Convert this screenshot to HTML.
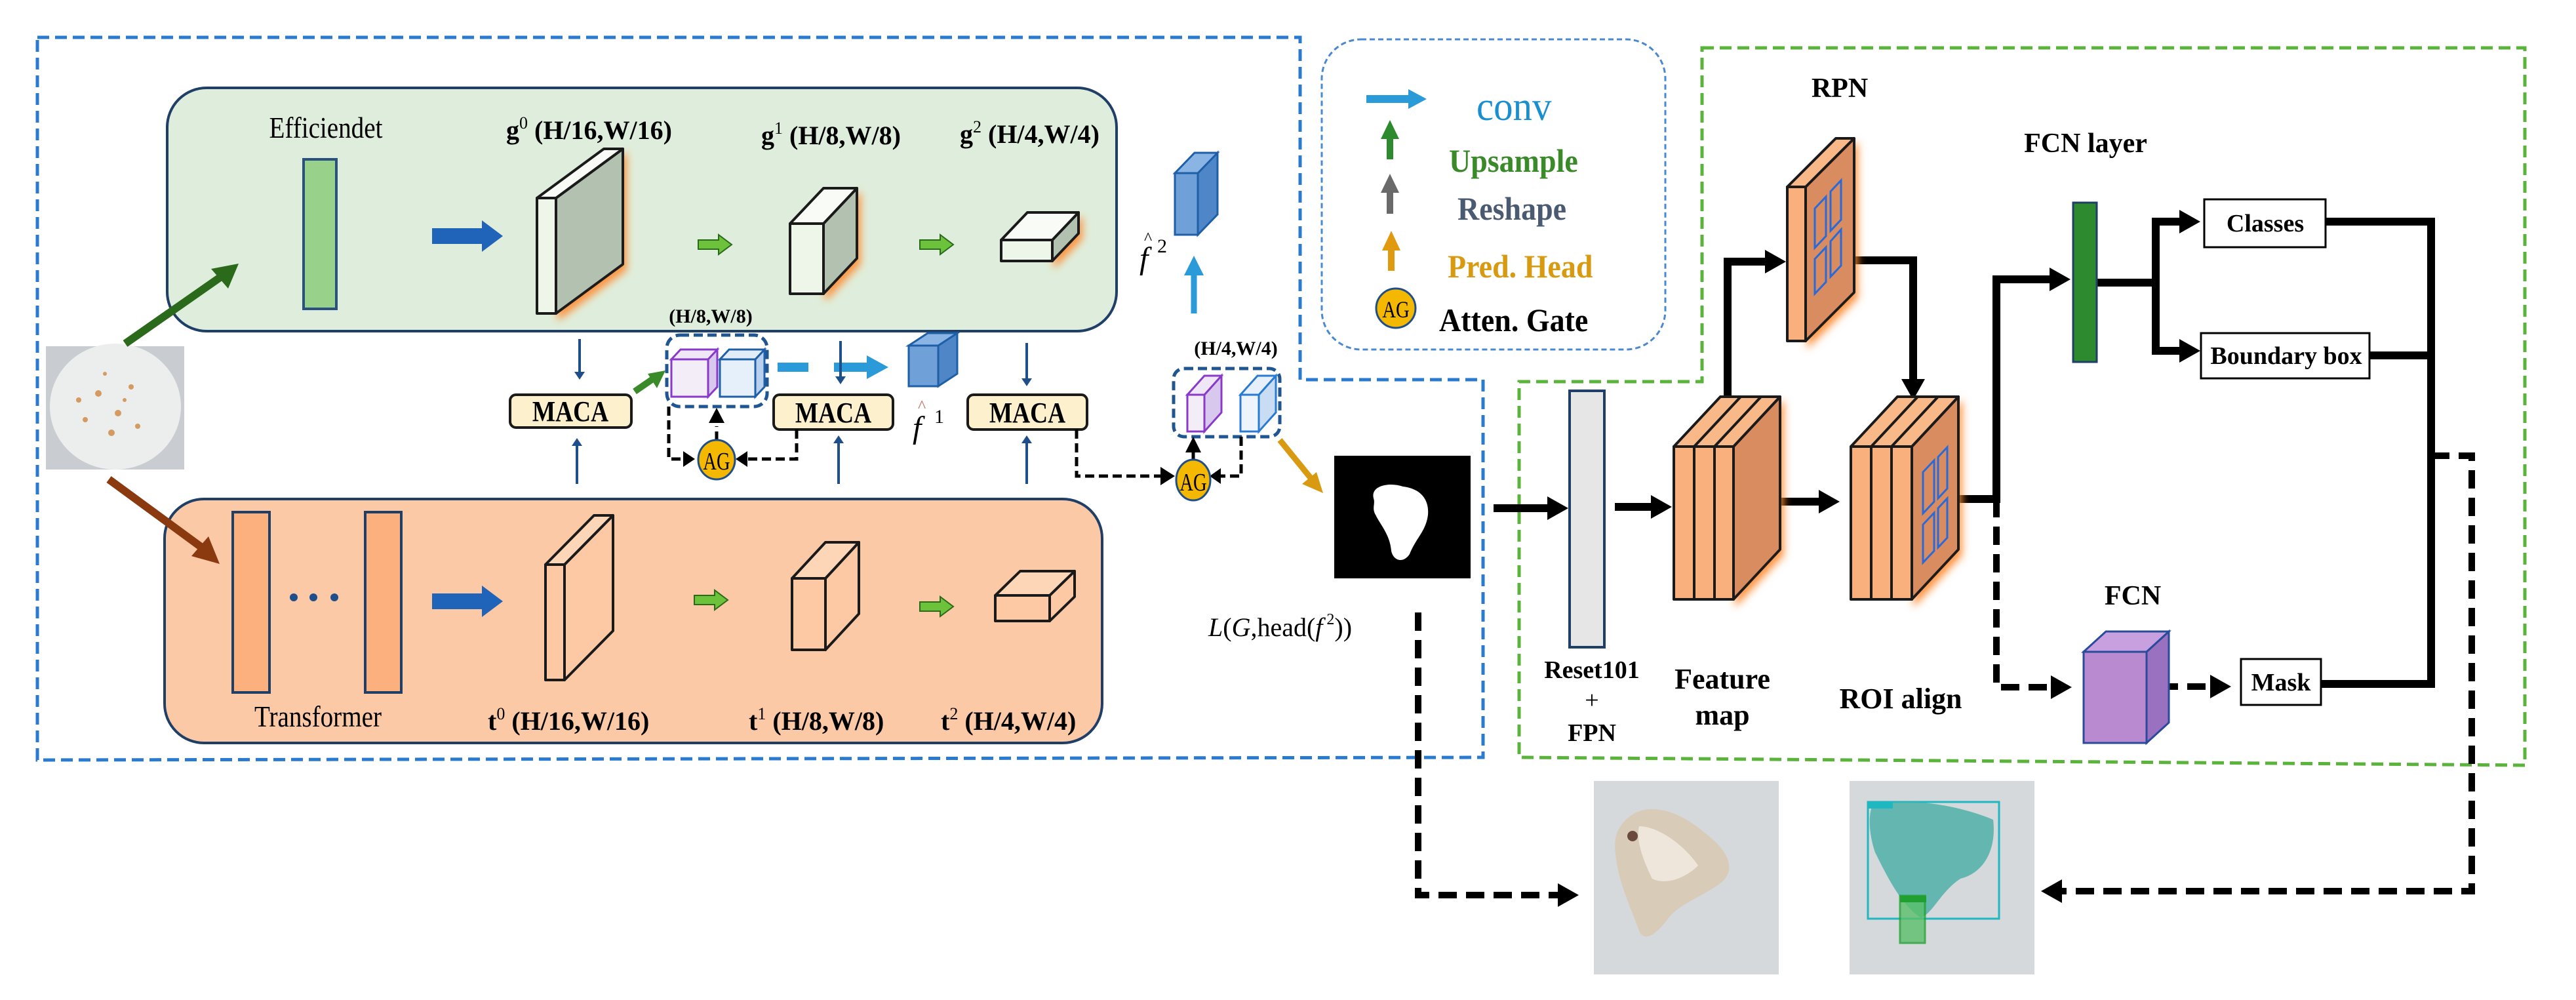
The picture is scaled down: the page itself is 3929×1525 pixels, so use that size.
<!DOCTYPE html>
<html><head><meta charset="utf-8"><style>
html,body{margin:0;padding:0;background:#fff;}
svg{display:block;}
text{font-family:"Liberation Serif",serif;}
</style></head><body>
<svg width="3929" height="1525" viewBox="0 0 3929 1525" xmlns="http://www.w3.org/2000/svg">
<defs>
<marker id="ab" markerWidth="5" markerHeight="5" refX="2" refY="2.5" orient="auto" markerUnits="strokeWidth"><path d="M0,0.5 L3,2.5 L0,4.5 z" fill="#1f4f8a"/></marker>
<filter id="gl" x="-50%" y="-50%" width="200%" height="200%"><feDropShadow dx="4" dy="8" stdDeviation="6" flood-color="#ff8a30" flood-opacity="0.9"/></filter>
</defs>

<path d="M57,57 L1983,57 L1983,579 L2262,579 L2262,1155 L57,1159 Z" fill="none" stroke="#2a7ad0" stroke-width="5" stroke-dasharray="18,9"/>
<path d="M2596,73 L3851,73 L3851,1167 L2317,1155 L2317,582 L2596,582 Z" fill="none" stroke="#5ab33a" stroke-width="5" stroke-dasharray="18,9"/>

<rect x="255" y="134" width="1448" height="371" rx="60" fill="#dfeedc" stroke="#1f3f66" stroke-width="4"/>
<rect x="251" y="761" width="1430" height="372" rx="60" fill="#fcc9a6" stroke="#1f3f66" stroke-width="4"/>

<rect x="70" y="528" width="211" height="188" fill="#c9cdd1"/>
<ellipse cx="176" cy="620" rx="100" ry="96" fill="#eceeee"/>
<g fill="#d49a60"><circle cx="150" cy="600" r="5"/><circle cx="180" cy="630" r="5"/><circle cx="200" cy="590" r="4"/><circle cx="130" cy="640" r="4"/><circle cx="170" cy="660" r="5"/><circle cx="210" cy="650" r="4"/><circle cx="120" cy="610" r="4"/><circle cx="190" cy="610" r="3"/><circle cx="160" cy="570" r="3"/></g>
<line x1="191" y1="524" x2="340" y2="420" stroke="#2a6a1a" stroke-width="12"/>
<polygon points="364,402 348,440 322,410" fill="#2a6a1a"/>
<line x1="166" y1="731" x2="312" y2="838" stroke="#8b3a10" stroke-width="12"/>
<polygon points="335,860 292,848 318,818" fill="#8b3a10"/>

<text x="497" y="210" font-size="46" text-anchor="middle" transform="translate(497 0) scale(0.85 1) translate(-497 0)">Efficiendet</text>
<rect x="463" y="243" width="50" height="228" fill="#98d18a" stroke="#2a5080" stroke-width="4"/>
<polygon points="659,348 735,348 735,336 767,360 735,384 735,372 659,372" fill="#1f64b8"/>
<polygon points="659,905 735,905 735,893 767,917 735,941 735,929 659,929" fill="#1f64b8"/>

<g fill="#6cc23a" stroke="#2a6a1a" stroke-width="2">
<polygon points="1065,366 1096,366 1096,358 1116,373 1096,388 1096,380 1065,380"/>
<polygon points="1403,366 1434,366 1434,358 1454,373 1434,388 1434,380 1403,380"/>
<polygon points="1059,908 1090,908 1090,900 1110,915 1090,930 1090,922 1059,922"/>
<polygon points="1403,918 1434,918 1434,910 1454,925 1434,940 1434,932 1403,932"/>
</g>

<g stroke="#1a1a1a" stroke-width="4" stroke-linejoin="round">
<g filter="url(#gl)"><polygon points="848,302 950,227 950,403 848,478" fill="#b3c1b0"/></g>
<polygon points="819,302 921,227 950,227 848,302" fill="#f8fbf6"/>
<rect x="819" y="302" width="29" height="176" fill="#eef6ea"/>
<g filter="url(#gl)"><polygon points="1256,341 1307,287 1307,394 1256,448" fill="#b3c1b0"/></g>
<polygon points="1205,341 1256,287 1307,287 1256,341" fill="#f8fbf6"/>
<rect x="1205" y="341" width="51" height="107" fill="#eef6ea"/>
<g filter="url(#gl)"><polygon points="1605,366 1645,324 1645,356 1605,398" fill="#b3c1b0"/></g>
<polygon points="1527,366 1567,324 1645,324 1605,366" fill="#f8fbf6"/>
<rect x="1527" y="366" width="78" height="32" fill="#eef6ea"/>
</g>
<text x="772" y="212" font-size="40" font-weight="bold">g<tspan font-size="26" dy="-16" font-weight="normal">0</tspan><tspan dy="16"> (H/16,W/16)</tspan></text>
<text x="1161" y="220" font-size="40" font-weight="bold">g<tspan font-size="26" dy="-16" font-weight="normal">1</tspan><tspan dy="16"> (H/8,W/8)</tspan></text>
<text x="1464" y="218" font-size="40" font-weight="bold">g<tspan font-size="26" dy="-16" font-weight="normal">2</tspan><tspan dy="16"> (H/4,W/4)</tspan></text>

<g stroke="#1a1a1a" stroke-width="4" stroke-linejoin="round">
<polygon points="861,861 935,786 935,962 861,1037" fill="#fcc9a4"/>
<polygon points="832,861 906,786 935,786 861,861" fill="#fdd6b8"/>
<rect x="832" y="861" width="29" height="176" fill="#fcc9a4"/>
<polygon points="1259,882 1310,827 1310,936 1259,991" fill="#fcc9a4"/>
<polygon points="1208,882 1259,827 1310,827 1259,882" fill="#fdd6b8"/>
<rect x="1208" y="882" width="51" height="109" fill="#fcc9a4"/>
<polygon points="1601,908 1639,871 1639,910 1601,947" fill="#fcc9a4"/>
<polygon points="1518,908 1556,871 1639,871 1601,908" fill="#fdd6b8"/>
<rect x="1518" y="908" width="83" height="39" fill="#fcc9a4"/>
</g>
<rect x="355" y="781" width="56" height="275" fill="#fbb07e" stroke="#1f3f66" stroke-width="4"/>
<rect x="557" y="781" width="55" height="275" fill="#fbb07e" stroke="#1f3f66" stroke-width="4"/>
<g fill="#1f4f8a"><circle cx="448" cy="911" r="6"/><circle cx="478" cy="911" r="6"/><circle cx="510" cy="911" r="6"/></g>
<text x="485" y="1108" font-size="46" text-anchor="middle" transform="translate(485 0) scale(0.85 1) translate(-485 0)">Transformer</text>
<text x="744" y="1113" font-size="40" font-weight="bold">t<tspan font-size="26" dy="-16" font-weight="normal">0</tspan><tspan dy="16"> (H/16,W/16)</tspan></text>
<text x="1142" y="1113" font-size="40" font-weight="bold">t<tspan font-size="26" dy="-16" font-weight="normal">1</tspan><tspan dy="16"> (H/8,W/8)</tspan></text>
<text x="1435" y="1113" font-size="40" font-weight="bold">t<tspan font-size="26" dy="-16" font-weight="normal">2</tspan><tspan dy="16"> (H/4,W/4)</tspan></text>

<g stroke="#1f5fa8" stroke-width="3">
<polygon points="1827,264 1857,233 1857,327 1827,358" fill="#4f86c8"/>
<polygon points="1792,264 1822,233 1857,233 1827,264" fill="#8ab4e4"/>
<rect x="1792" y="264" width="35" height="94" fill="#6fa0d8"/>
</g>
<text x="1738" y="410" font-size="48" font-style="italic">f</text><text x="1745" y="372" font-size="26">^</text><text x="1765" y="385" font-size="30">2</text>
<line x1="1821" y1="478" x2="1821" y2="420" stroke="#2a9ad8" stroke-width="9"/>
<polygon points="1806,420 1836,420 1821,390" fill="#2a9ad8"/>

<text x="1084" y="492" font-size="30" font-weight="bold" text-anchor="middle">(H/8,W/8)</text>
<rect x="1017" y="511" width="153" height="109" rx="20" fill="none" stroke="#1f5590" stroke-width="5" stroke-dasharray="14,7"/>
<g stroke-width="3">
<polygon points="1080,548 1094,533 1094,590 1080,605" fill="#d8c8ee" stroke="#8a3ac8"/>
<polygon points="1024,548 1038,533 1094,533 1080,548" fill="#efe6f8" stroke="#8a3ac8"/>
<rect x="1024" y="548" width="56" height="57" fill="#f3edf8" stroke="#8a3ac8"/>
<polygon points="1152,548 1166,533 1166,590 1152,605" fill="#b8d0ee" stroke="#1f5fa8"/>
<polygon points="1098,548 1112,533 1166,533 1152,548" fill="#e0ecf8" stroke="#1f5fa8"/>
<rect x="1098" y="548" width="54" height="57" fill="#e6f0fa" stroke="#1f5fa8"/>
</g>
<line x1="1186" y1="560" x2="1233" y2="560" stroke="#2a9ad8" stroke-width="14"/>
<line x1="1272" y1="560" x2="1325" y2="560" stroke="#2a9ad8" stroke-width="14"/>
<polygon points="1322,542 1355,560 1322,578" fill="#2a9ad8"/>
<g stroke="#1f5fa8" stroke-width="3">
<polygon points="1431,527 1460,508 1460,570 1431,589" fill="#4f86c8"/>
<polygon points="1386,527 1415,508 1460,508 1431,527" fill="#8ab4e4"/>
<rect x="1386" y="527" width="45" height="62" fill="#6fa0d8"/>
</g>
<text x="1392" y="668" font-size="48" font-style="italic">f</text><text x="1400" y="628" font-size="26" fill="#c07060">^</text><text x="1425" y="645" font-size="30">1</text>

<g fill="#fdf0cc" stroke="#1a1a1a" stroke-width="4">
<rect x="778" y="602" width="185" height="50" rx="9"/>
<rect x="1180" y="602" width="182" height="53" rx="9"/>
<rect x="1476" y="602" width="182" height="53" rx="9"/>
</g>
<g font-size="44" font-weight="bold" text-anchor="middle">
<text x="870" y="642" transform="translate(870 0) scale(0.85 1) translate(-870 0)">MACA</text>
<text x="1271" y="644" transform="translate(1271 0) scale(0.85 1) translate(-1271 0)">MACA</text>
<text x="1567" y="644" transform="translate(1567 0) scale(0.85 1) translate(-1567 0)">MACA</text>
</g>
<g stroke="#1f4f8a" stroke-width="4">
<line x1="884" y1="517" x2="884" y2="575" marker-end="url(#ab)"/>
<line x1="1282" y1="520" x2="1282" y2="582" marker-end="url(#ab)"/>
<line x1="1566" y1="523" x2="1566" y2="585" marker-end="url(#ab)"/>
<line x1="880" y1="738" x2="880" y2="672" marker-end="url(#ab)"/>
<line x1="1279" y1="738" x2="1279" y2="668" marker-end="url(#ab)"/>
<line x1="1566" y1="738" x2="1566" y2="668" marker-end="url(#ab)"/>
</g>
<line x1="968" y1="597" x2="1000" y2="575" stroke="#3a8a2a" stroke-width="10"/>
<polygon points="1015,565 1002,592 988,570" fill="#3a8a2a"/>

<g fill="none" stroke="#000" stroke-width="5" stroke-dasharray="14,7">
<path d="M1020,620 L1020,700 L1045,700"/>
<path d="M1215,655 L1215,700 L1140,700"/>
<path d="M1093,672 L1093,650"/>
</g>
<polygon points="1060,700 1042,688 1042,712" fill="#000"/>
<polygon points="1122,700 1140,688 1140,712" fill="#000"/>
<polygon points="1093,622 1081,645 1105,645" fill="#000"/>
<ellipse cx="1093" cy="701" rx="28" ry="30" fill="#f5b800" stroke="#1f4f8a" stroke-width="3"/>
<text x="1093" y="716" font-size="38" text-anchor="middle" font-family="Liberation Sans" transform="translate(1093 0) scale(0.75 1) translate(-1093 0)">AG</text>

<text x="1885" y="541" font-size="30" font-weight="bold" text-anchor="middle">(H/4,W/4)</text>
<rect x="1790" y="562" width="162" height="104" rx="16" fill="none" stroke="#1f5590" stroke-width="5" stroke-dasharray="14,7"/>
<g stroke-width="3">
<polygon points="1837,602 1863,573 1863,629 1837,658" fill="#d8c8ee" stroke="#8a3ac8"/>
<polygon points="1811,602 1837,573 1863,573 1837,602" fill="#efe6f8" stroke="#8a3ac8"/>
<rect x="1811" y="602" width="26" height="56" fill="#f3edf8" stroke="#8a3ac8"/>
<polygon points="1920,602 1946,573 1946,629 1920,658" fill="#c8dcf4" stroke="#2a7ad0"/>
<polygon points="1892,602 1918,573 1946,573 1920,602" fill="#e6f0fa" stroke="#2a7ad0"/>
<rect x="1892" y="602" width="28" height="56" fill="#eef4fc" stroke="#2a7ad0"/>
</g>
<g fill="none" stroke="#000" stroke-width="5" stroke-dasharray="14,7">
<path d="M1642,655 L1642,726 L1770,726"/>
<path d="M1893,666 L1893,726 L1862,726"/>
</g>
<line x1="1820" y1="705" x2="1820" y2="690" stroke="#000" stroke-width="5"/>
<polygon points="1820,666 1808,690 1832,690" fill="#000"/>
<polygon points="1792,726 1770,712 1770,740" fill="#000"/>
<polygon points="1845,726 1862,714 1862,738" fill="#000"/>
<ellipse cx="1820" cy="732" rx="26" ry="31" fill="#f5b800" stroke="#1f4f8a" stroke-width="3"/>
<text x="1820" y="748" font-size="38" text-anchor="middle" font-family="Liberation Sans" transform="translate(1820 0) scale(0.75 1) translate(-1820 0)">AG</text>
<line x1="1952" y1="671" x2="2000" y2="730" stroke="#d89a10" stroke-width="9"/>
<polygon points="2018,752 1986,738 2008,720" fill="#d89a10"/>

<rect x="2016" y="60" width="524" height="473" rx="60" fill="none" stroke="#4a88d0" stroke-width="3" stroke-dasharray="8,5"/>
<line x1="2084" y1="151" x2="2150" y2="151" stroke="#2a9ad8" stroke-width="12"/>
<polygon points="2148,136 2176,151 2148,166" fill="#2a9ad8"/>
<text x="2252" y="183" font-size="62" fill="#1a8fd0" transform="translate(2252 0) scale(0.95 1) translate(-2252 0)">conv</text>
<line x1="2120" y1="243" x2="2120" y2="208" stroke="#2e8a2e" stroke-width="10"/>
<polygon points="2106,212 2134,212 2120,183" fill="#2e8a2e"/>
<text x="2210" y="262" font-size="50" font-weight="bold" fill="#3a8a2a" transform="translate(2210 0) scale(0.92 1) translate(-2210 0)">Upsample</text>
<line x1="2120" y1="326" x2="2120" y2="290" stroke="#6a6a6a" stroke-width="10"/>
<polygon points="2106,294 2134,294 2120,265" fill="#6a6a6a"/>
<text x="2223" y="335" font-size="50" font-weight="bold" fill="#4a5a70" transform="translate(2223 0) scale(0.92 1) translate(-2223 0)">Reshape</text>
<line x1="2122" y1="413" x2="2122" y2="378" stroke="#e09a10" stroke-width="10"/>
<polygon points="2108,382 2136,382 2122,352" fill="#e09a10"/>
<text x="2208" y="423" font-size="50" font-weight="bold" fill="#d89a10" transform="translate(2208 0) scale(0.92 1) translate(-2208 0)">Pred. Head</text>
<circle cx="2129" cy="470" r="30" fill="#f5b800" stroke="#1f4f8a" stroke-width="3"/>
<text x="2129" y="484" font-size="36" text-anchor="middle" font-family="Liberation Sans" transform="translate(2129 0) scale(0.8 1) translate(-2129 0)">AG</text>
<text x="2195" y="505" font-size="50" font-weight="bold" transform="translate(2195 0) scale(0.92 1) translate(-2195 0)">Atten. Gate</text>

<rect x="2035" y="695" width="208" height="187" fill="#000"/>
<path d="M2095,760 C2090,740 2120,735 2140,742 C2165,745 2180,760 2178,785 C2175,810 2160,820 2150,845 C2140,860 2125,855 2122,840 C2120,815 2105,800 2098,785 C2092,775 2098,768 2095,760 Z" fill="#fff"/>
<text x="1843" y="970" font-size="40"><tspan font-style="italic">L</tspan>(<tspan font-style="italic">G</tspan>,head(<tspan font-style="italic">f</tspan><tspan font-size="24" dx="6" dy="-18">2</tspan><tspan dy="18">))</tspan></text>

<g stroke="#000" stroke-width="12" fill="none">
<line x1="2278" y1="775" x2="2360" y2="775"/>
<line x1="2463" y1="773" x2="2520" y2="773"/>
<line x1="2687" y1="765" x2="2775" y2="765"/>
<path d="M2635,613 L2635,399 L2695,399"/>
<path d="M2799,397 L2918,397 L2918,580"/>
<path d="M2955,761 L3045,761 L3045,426 L3128,426"/>
<path d="M3198,431 L3288,431"/>
<path d="M3326,338 L3288,338 L3288,535 L3326,535"/>
<path d="M3547,338 L3708,338 L3708,1043 L3541,1043"/>
<line x1="3614" y1="542" x2="3708" y2="542"/>
</g>
<g fill="#000">
<polygon points="2392,775 2360,757 2360,793"/>
<polygon points="2550,773 2518,755 2518,791"/>
<polygon points="2806,765 2774,747 2774,783"/>
<polygon points="2724,399 2692,381 2692,417"/>
<polygon points="2918,610 2900,578 2936,578"/>
<polygon points="3158,426 3126,408 3126,444"/>
<polygon points="3356,338 3324,320 3324,356"/>
<polygon points="3356,535 3324,517 3324,553"/>
<polygon points="3160,1048 3128,1030 3128,1066"/>
<polygon points="3403,1047 3371,1029 3371,1065"/>
<polygon points="2408,1365 2376,1347 2376,1383"/>
<polygon points="3113,1359 3145,1341 3145,1377"/>
</g>
<g stroke="#000" stroke-width="10" fill="none" stroke-dasharray="28,14">
<path d="M3045,761 L3045,1048 L3130,1048"/>
<line x1="3294" y1="1047" x2="3372" y2="1047"/>
<path d="M3708,695 L3770,695 L3770,1359 L3143,1359"/>
<path d="M2163,934 L2163,1365 L2378,1365"/>
</g>

<rect x="2394" y="596" width="53" height="391" fill="#e6e6e6" stroke="#1f3f66" stroke-width="4"/>
<g font-size="38" font-weight="bold" text-anchor="middle">
<text x="2428" y="1034">Reset101</text>
<text x="2428" y="1080" font-weight="normal">+</text>
<text x="2428" y="1130">FPN</text>
<text x="2627" y="1050" font-size="44">Feature</text>
<text x="2627" y="1105" font-size="44">map</text>
<text x="2899" y="1080" font-size="44">ROI align</text>
<text x="2806" y="148" font-size="42">RPN</text>
<text x="3181" y="232" font-size="42">FCN  layer</text>
<text x="3253" y="922" font-size="42">FCN</text>
</g>

<g stroke="#1a1a1a" stroke-width="4" stroke-linejoin="round">
<g filter="url(#gl)"><polygon points="2644,681 2715,605 2715,838 2644,914" fill="#d98c5e"/></g>
<polygon points="2553,681 2624,605 2715,605 2644,681" fill="#f9b888"/>
<rect x="2553" y="681" width="91" height="233" fill="#f9b07c"/>
<line x1="2584" y1="681" x2="2584" y2="914"/><line x1="2615" y1="681" x2="2615" y2="914"/>
<line x1="2584" y1="681" x2="2655" y2="605"/><line x1="2615" y1="681" x2="2686" y2="605"/>
</g>
<g stroke="#1a1a1a" stroke-width="4" stroke-linejoin="round">
<g filter="url(#gl)"><polygon points="2916,681 2987,605 2987,838 2916,914" fill="#d98c5e"/></g>
<polygon points="2823,681 2894,605 2987,605 2916,681" fill="#f9b888"/>
<rect x="2823" y="681" width="93" height="233" fill="#f9b07c"/>
<line x1="2854" y1="681" x2="2854" y2="914"/><line x1="2885" y1="681" x2="2885" y2="914"/>
<line x1="2854" y1="681" x2="2925" y2="605"/><line x1="2885" y1="681" x2="2956" y2="605"/>
</g>
<g fill="none" stroke="#2a6ad8" stroke-width="3">
<polygon points="2933,720 2950,702 2950,765 2933,783"/>
<polygon points="2956,697 2970,682 2970,745 2956,760"/>
<polygon points="2933,800 2950,782 2950,840 2933,858"/>
<polygon points="2956,775 2970,760 2970,820 2956,835"/>
</g>
<g stroke="#1a1a1a" stroke-width="4" stroke-linejoin="round">
<g filter="url(#gl)"><polygon points="2754,285 2828,211 2828,446 2754,520" fill="#d98c5e"/></g>
<polygon points="2726,285 2800,211 2828,211 2754,285" fill="#f9b888"/>
<rect x="2726" y="285" width="28" height="235" fill="#f9b07c"/>
</g>
<g fill="none" stroke="#2a6ad8" stroke-width="3">
<polygon points="2768,318 2785,300 2785,360 2768,378"/>
<polygon points="2792,292 2808,275 2808,335 2792,352"/>
<polygon points="2768,395 2785,377 2785,430 2768,448"/>
<polygon points="2792,368 2808,350 2808,405 2792,422"/>
</g>

<rect x="3162" y="309" width="36" height="243" fill="#2e8a2e" stroke="#1f3f66" stroke-width="3"/>
<g fill="#fff" stroke="#000" stroke-width="3">
<rect x="3362" y="304" width="185" height="73"/>
<rect x="3357" y="508" width="257" height="69"/>
<rect x="3418" y="1005" width="122" height="70"/>
</g>
<g font-size="38" font-weight="bold" text-anchor="middle">
<text x="3455" y="353">Classes</text>
<text x="3487" y="555">Boundary box</text>
<text x="3479" y="1053">Mask</text>
</g>
<g stroke="#2a4a9a" stroke-width="3">
<polygon points="3274,994 3308,963 3308,1102 3274,1133" fill="#9a70c0"/>
<polygon points="3178,994 3212,963 3308,963 3274,994" fill="#c8a0e0"/>
<rect x="3178" y="994" width="96" height="139" fill="#b98ad0"/>
</g>

<rect x="2431" y="1191" width="282" height="295" fill="#d5d9dc"/>
<path d="M2480,1250 C2510,1220 2560,1235 2600,1270 C2640,1300 2650,1330 2620,1350 C2590,1370 2560,1380 2545,1400 C2530,1420 2510,1440 2500,1420 C2490,1390 2470,1350 2465,1310 C2460,1280 2465,1265 2480,1250 Z" fill="#d8ccb8"/>
<path d="M2500,1260 C2530,1260 2570,1290 2590,1320 C2570,1340 2540,1350 2520,1340 C2505,1310 2495,1280 2500,1260 Z" fill="#eee6da"/>
<circle cx="2490" cy="1275" r="8" fill="#6a4a3a"/>
<rect x="2821" y="1191" width="282" height="295" fill="#d5d9dc"/>
<rect x="2849" y="1223" width="200" height="178" fill="none" stroke="#20b8c0" stroke-width="3"/>
<path d="M2855,1230 C2900,1215 2980,1225 3040,1250 C3045,1290 3030,1330 2990,1340 C2960,1360 2950,1390 2930,1400 C2900,1380 2880,1340 2860,1300 C2850,1270 2850,1245 2855,1230 Z" fill="#4fb0a8" opacity="0.85"/>
<rect x="2898" y="1366" width="38" height="72" fill="#5ac06a" stroke="#20a030" stroke-width="3" opacity="0.8"/>
<rect x="2849" y="1223" width="38" height="10" fill="#20b8c0"/>
<rect x="2898" y="1366" width="40" height="10" fill="#20a030"/>
</svg>
</body></html>
